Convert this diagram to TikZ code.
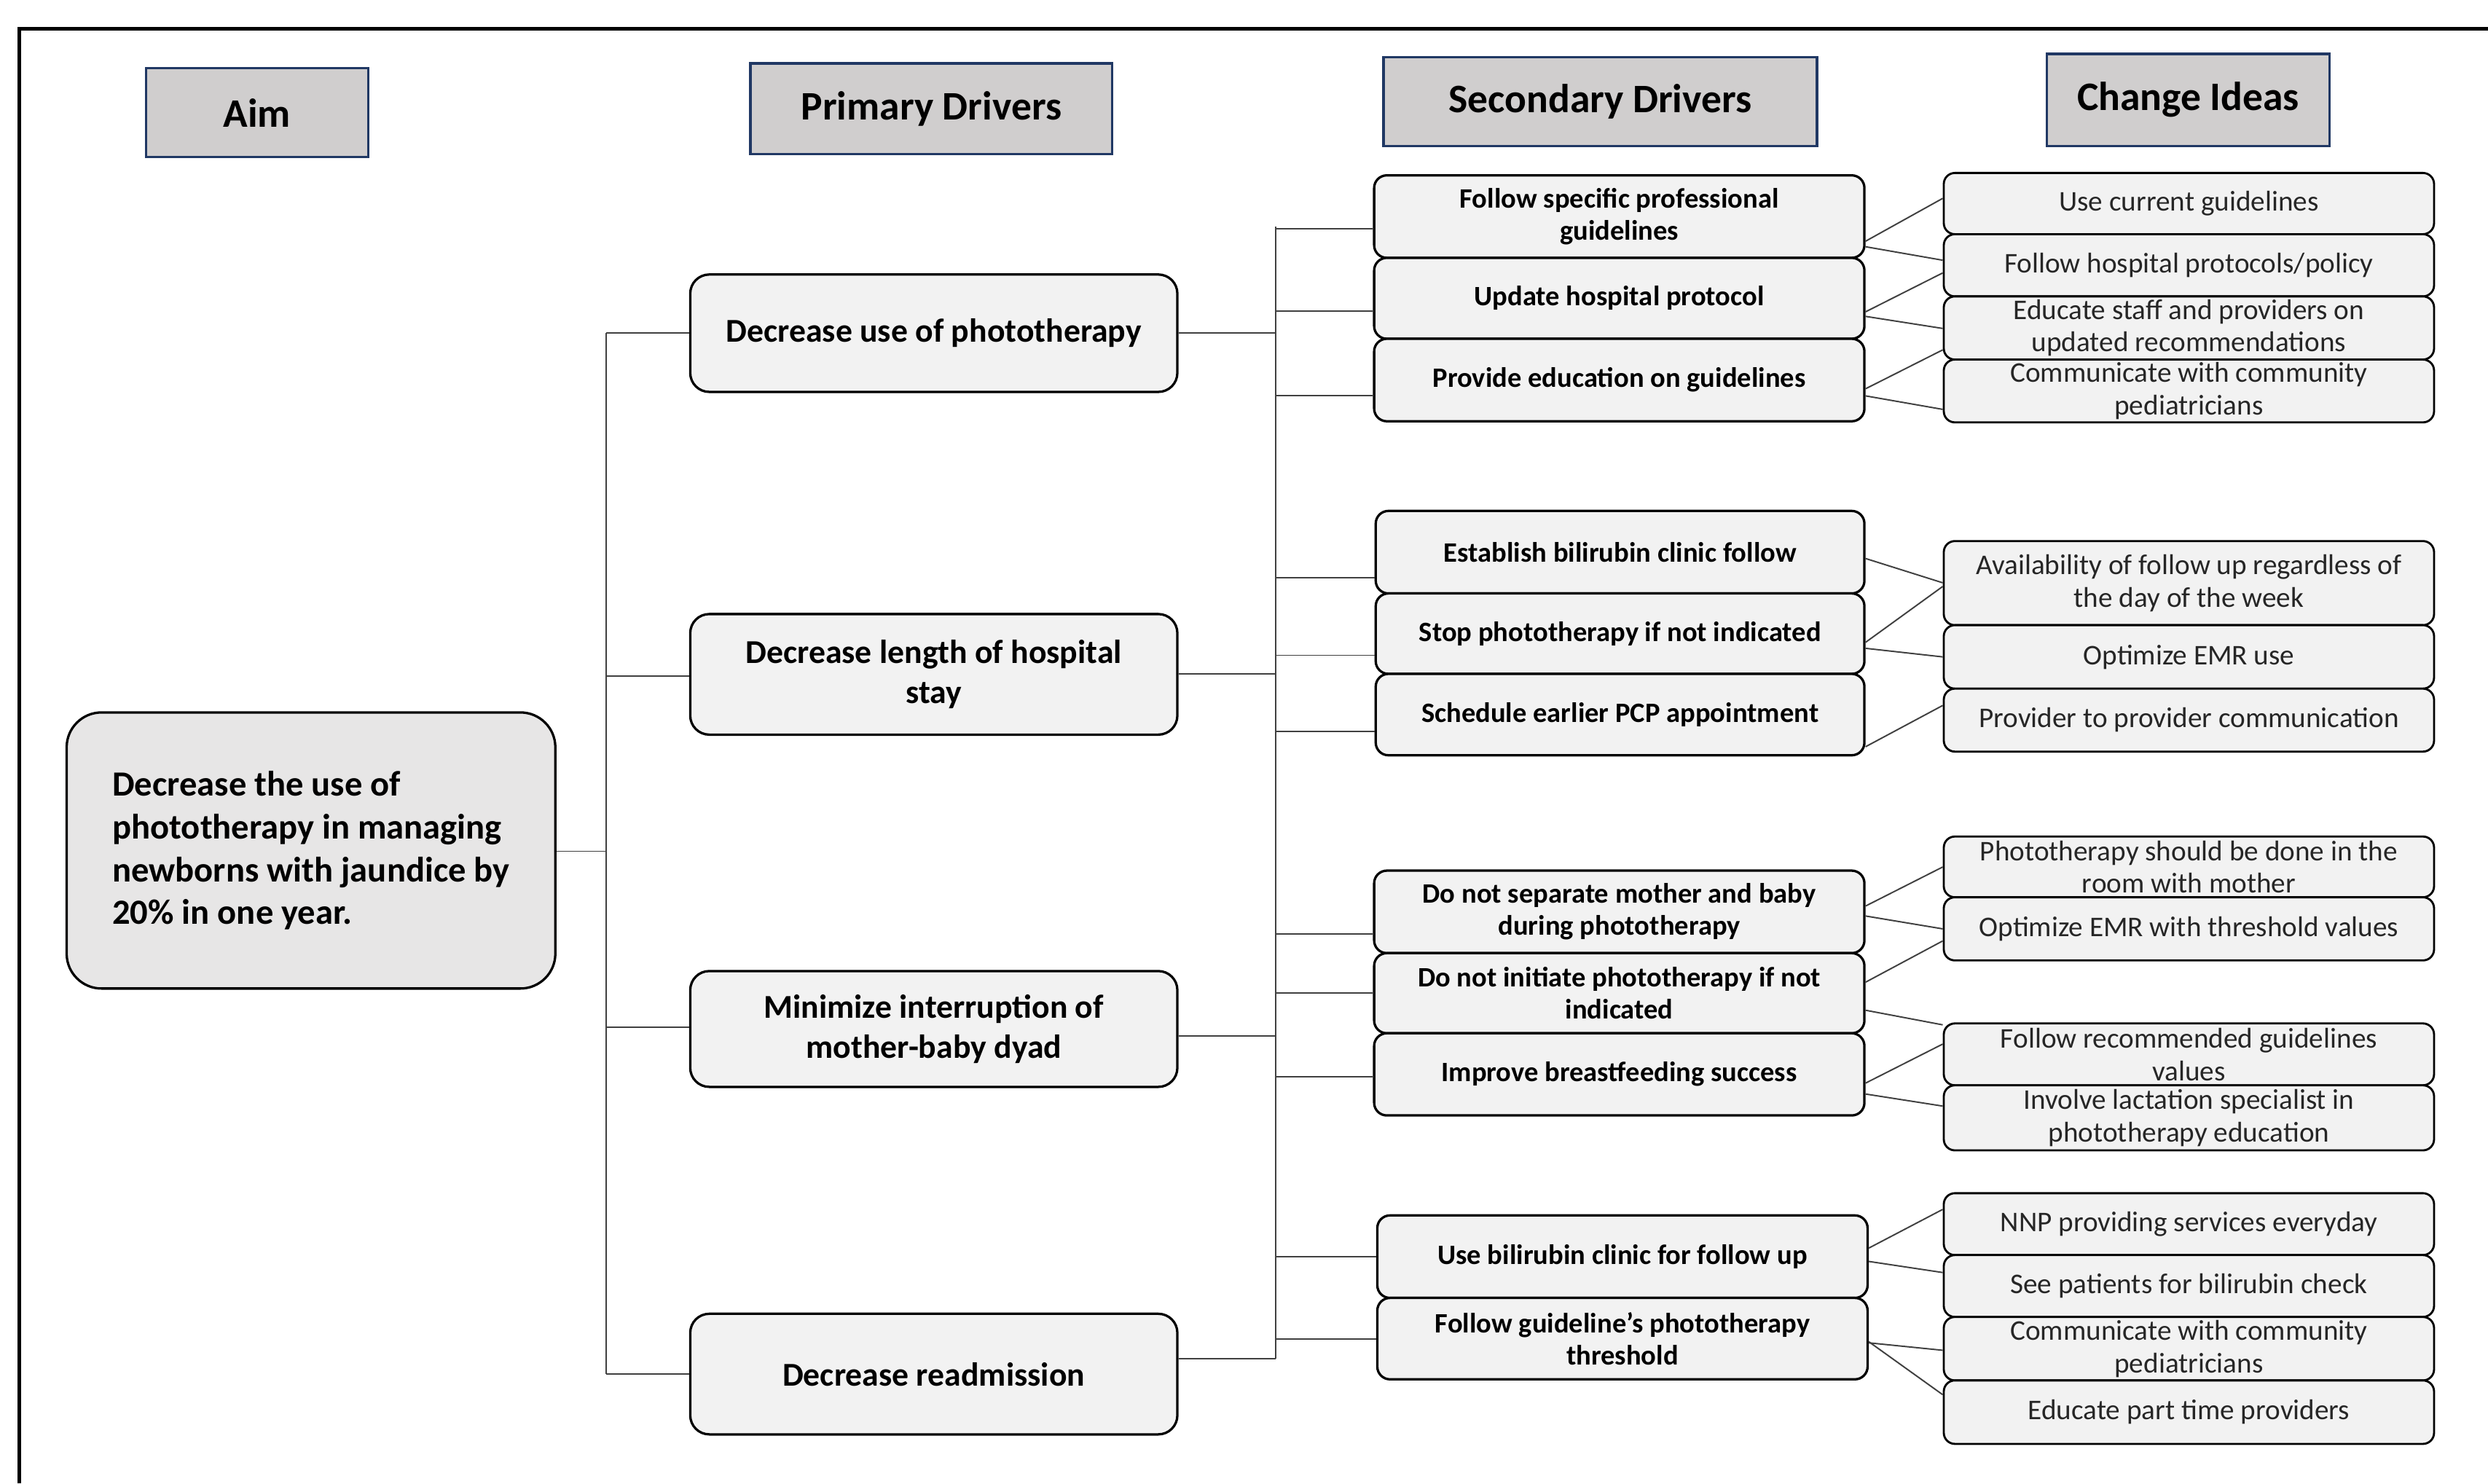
\documentclass[tikz,border=0pt]{standalone}
\usepackage{fontspec}
\setmainfont{Carlito}
\usetikzlibrary{calc}
\definecolor{hdrgray}{HTML}{D0CECE}
\definecolor{hdrblue}{HTML}{203864}
\definecolor{aimfill}{HTML}{E7E6E6}
\definecolor{boxfill}{HTML}{F2F2F2}
\definecolor{textgray}{HTML}{262626}
\definecolor{linegray}{HTML}{404040}
\begin{document}
\begin{tikzpicture}[x=1pt,y=-1pt,
  hdr/.style={draw=hdrblue, line width=1.6pt, fill=hdrgray, inner sep=0pt,
    font=\fontsize{25.5}{30}\selectfont\bfseries},
  aimbox/.style={draw, line width=1.5pt, rounded corners=22pt, fill=aimfill, inner sep=0pt,
    align=left, font=\fontsize{22.3}{27}\selectfont\bfseries},
  pri/.style={draw, line width=1.5pt, rounded corners=12pt, fill=boxfill, inner sep=0pt,
    align=center, minimum width=307pt, font=\fontsize{21}{25.5}\selectfont\bfseries},
  sec/.style={draw, line width=1.5pt, rounded corners=8pt, fill=boxfill, inner sep=0pt,
    align=center, font=\fontsize{17.7}{20.2}\selectfont\bfseries},
  chg/.style={draw, line width=1.3pt, rounded corners=7pt, fill=boxfill, inner sep=0pt,
    align=center, minimum width=309pt, text=textgray, font=\fontsize{18}{20.5}\selectfont},
  conn/.style={line width=0.9pt, draw=linegray}]
\useasboundingbox (0,0) rectangle (1568,935);
% frame
\draw[line width=2.2pt] (12,935) -- (12,18) -- (1568,18);
% headers
\node[hdr, minimum width=140pt, minimum height=56pt] (hAim) at (162,71) {Aim};
\node[hdr, minimum width=228pt, minimum height=57pt] (hPri) at (587,68.5) {Primary Drivers};
\node[hdr, minimum width=273pt, minimum height=56pt] (hSec) at (1008.5,64) {Secondary Drivers};
\node[hdr, minimum width=178pt, minimum height=58pt] (hChg) at (1379,63) {Change Ideas};
% aim
\node[aimbox, minimum width=308pt, minimum height=174pt] (aim) at (196,536)
  {Decrease the use of\\phototherapy in managing\\newborns with jaundice by\\20\% in one year.};
% primary drivers
\node[pri, minimum height=74pt] (p1) at (588.5,210) {Decrease use of phototherapy};
\node[pri, minimum height=76pt] (p2) at (588.5,425) {Decrease length of hospital\\stay};
\node[pri, minimum height=73pt] (p3) at (588.5,648.5) {Minimize interruption of\\mother-baby dyad};
\node[pri, minimum height=76pt] (p4) at (588.5,866) {Decrease readmission};
% secondary drivers
\node[sec, minimum width=309pt, minimum height=52pt] (s1) at (1020.5,136.5) {Follow specific professional\\guidelines};
\node[sec, minimum width=309pt, minimum height=51pt] (s2) at (1020.5,188) {Update hospital protocol};
\node[sec, minimum width=309pt, minimum height=52pt] (s3) at (1020.5,239.5) {Provide education on guidelines};
\node[sec, minimum width=308pt, minimum height=52pt] (s4) at (1021,348) {Establish bilirubin clinic follow};
\node[sec, minimum width=308pt, minimum height=50.7pt] (s5) at (1021,399.35) {Stop phototherapy if not indicated};
\node[sec, minimum width=308pt, minimum height=51.3pt] (s6) at (1021,450.35) {Schedule earlier PCP appointment};
\node[sec, minimum width=309pt, minimum height=52pt] (s7) at (1020.5,574.7) {Do not separate mother and baby\\during phototherapy};
\node[sec, minimum width=309pt, minimum height=50.5pt] (s8) at (1020.5,625.95) {Do not initiate phototherapy if not\\indicated};
\node[sec, minimum width=309pt, minimum height=51.8pt] (s9) at (1020.5,677.1) {Improve breastfeeding success};
\node[sec, minimum width=309pt, minimum height=52pt] (s10) at (1022.5,792) {Use bilirubin clinic for follow up};
\node[sec, minimum width=309pt, minimum height=51.3pt] (s11) at (1022.5,843.65) {Follow guideline’s phototherapy\\threshold};
% change ideas
\node[chg, minimum height=38.6pt] (c1) at (1379.5,128.3) {Use current guidelines};
\node[chg, minimum height=39.2pt] (c2) at (1379.5,167.2) {Follow hospital protocols/policy};
\node[chg, minimum height=39.8pt] (c3) at (1379.5,206.7) {Educate staff and providers on\\updated recommendations};
\node[chg, minimum height=39.6pt] (c4) at (1379.5,246.4) {Communicate with community\\pediatricians};
\node[chg, minimum height=53pt] (c5) at (1379.5,367.5) {Availability of follow up regardless of\\the day of the week};
\node[chg, minimum height=40pt] (c6) at (1379.5,414) {Optimize EMR use};
\node[chg, minimum height=39.7pt] (c7) at (1379.5,453.85) {Provider to provider communication};
\node[chg, minimum height=38.3pt] (c8) at (1379.5,546.35) {Phototherapy should be done in the\\room with mother};
\node[chg, minimum height=39.8pt] (c9) at (1379.5,585.4) {Optimize EMR with threshold values};
\node[chg, minimum height=39pt] (c10) at (1379.5,664.5) {Follow recommended guidelines\\values};
\node[chg, minimum height=41pt] (c11) at (1379.5,704.5) {Involve lactation specialist in\\phototherapy education};
\node[chg, minimum height=39pt] (c12) at (1379.5,771.5) {NNP providing services everyday};
\node[chg, minimum height=39pt] (c13) at (1379.5,810.5) {See patients for bilirubin check};
\node[chg, minimum height=40pt] (c14) at (1379.5,850) {Communicate with community\\pediatricians};
\node[chg, minimum height=40pt] (c15) at (1379.5,890) {Educate part time providers};
% trunks
\coordinate (trA) at (382,0);
\coordinate (trB) at (804,0);
\draw[conn] (aim.east |- 0,536.5) -- (trA |- 0,536.5);
\draw[conn] (trA |- 0,210) -- (trA |- 0,866);
\draw[conn] (trA |- 0,210) -- (p1.west |- 0,210);
\draw[conn] (trA |- 0,426) -- (p2.west |- 0,426);
\draw[conn] (trA |- 0,647.5) -- (p3.west |- 0,647.5);
\draw[conn] (trA |- 0,866) -- (p4.west |- 0,866);
\draw[conn] (trB |- 0,143) -- (trB |- 0,856.3);
\draw[conn] (p1.east |- 0,210) -- (trB |- 0,210);
\draw[conn] (p2.east |- 0,424.6) -- (trB |- 0,424.6);
\draw[conn] (p3.east |- 0,652.7) -- (trB |- 0,652.7);
\draw[conn] (p4.east |- 0,856.3) -- (trB |- 0,856.3);
\foreach \n/\y in {s1/144,s2/196,s3/249.5,s4/364,s5/413,s6/461,s7/588.5,s8/626,s9/678.7,s10/792,s11/844}
  \draw[conn] (trB |- 0,\y) -- (\n.west |- 0,\y);
% secondary to change ideas
\foreach \a/\ya/\b/\yb in {s1/152/c1/125, s1/155.5/c2/164, s2/196.5/c2/172, s2/199.4/c3/207,
  s3/245/c3/220.5, s3/249.5/c4/258, s4/352/c5/367.3, s5/404.8/c5/369.6, s5/408.6/c6/414,
  s6/470.6/c7/444.6, s7/571/c8/546.4, s7/577.3/c9/585.4, s8/619/c9/593, s8/636.7/c10/645.9,
  s9/682.6/c10/658, s9/689.5/c11/697.1, s10/786.6/c12/762.2, s10/795/c13/802,
  s11/846.3/c14/851, s11/845.6/c15/879}
  \draw[conn] (\a.east |- 0,\ya) -- (\b.west |- 0,\yb);
\end{tikzpicture}
\end{document}
